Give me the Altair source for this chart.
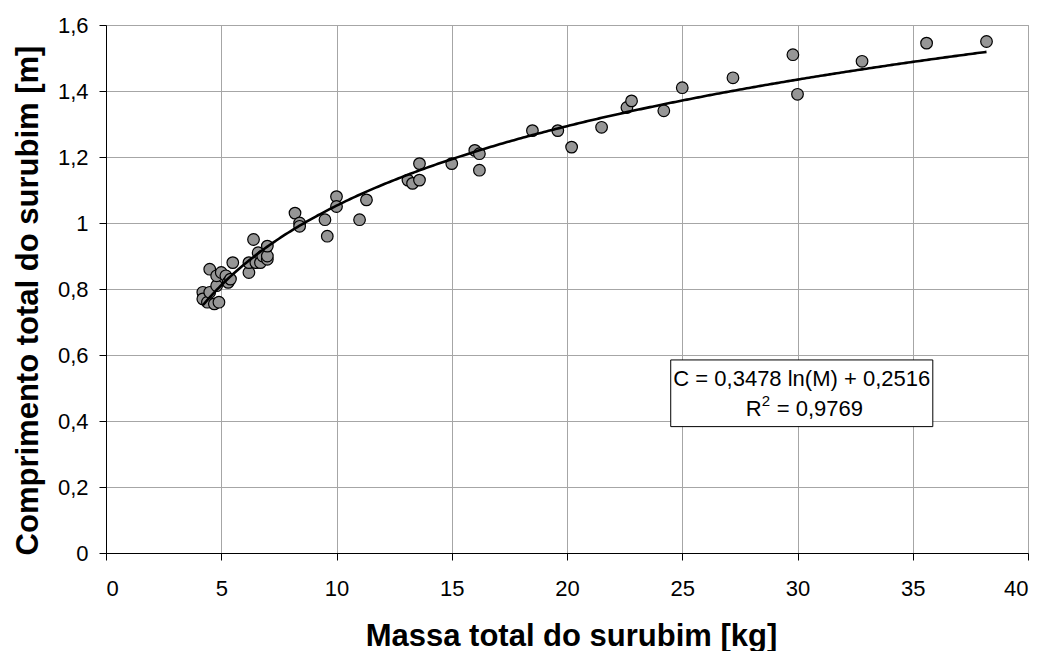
import altair as alt
import pandas as pd

# Surubim measurements: total mass [kg] and total length [m]
massa = [4.2, 4.2, 4.4, 4.5, 4.5, 4.7, 4.8, 4.8, 4.9, 5.0, 5.2, 5.3, 5.4, 5.5,
         6.2, 6.2, 6.4, 6.5, 6.6, 6.7, 6.8, 7.0, 7.0, 7.0,
         8.2, 8.4, 8.4, 9.5, 9.6, 10.0, 10.0, 11.0, 11.3,
         13.1, 13.3, 13.6, 13.6, 15.0, 16.0, 16.2, 16.2,
         18.5, 19.6, 20.2, 21.5, 22.6, 22.8, 24.2, 25.0, 27.2,
         29.8, 30.0, 32.8, 35.6, 38.2]
comprimento = [0.79, 0.77, 0.76, 0.79, 0.86, 0.755, 0.81, 0.84, 0.76, 0.85, 0.84, 0.82, 0.83, 0.88,
               0.85, 0.88, 0.95, 0.88, 0.91, 0.88, 0.90, 0.89, 0.90, 0.93,
               1.03, 1.00, 0.99, 1.01, 0.96, 1.08, 1.05, 1.01, 1.07,
               1.13, 1.12, 1.18, 1.13, 1.18, 1.22, 1.21, 1.16,
               1.28, 1.28, 1.23, 1.29, 1.35, 1.37, 1.34, 1.41, 1.44,
               1.51, 1.39, 1.49, 1.545, 1.55]

# Logarithmic fit C = a ln(M) + b
coef_a = 0.3478
coef_b = 0.2516
m_min, m_max = 4.2, 38.2

eq_line1 = "C = 0,3478 ln(M) + 0,2516"
eq_r = "R"
eq_sup = "2"
eq_rest = "= 0,9769"

# Equation box extent and text baselines (data units)
box_x = [24.5, 35.87]
box_y = [0.383, 0.585]
line_y = [0.506, 0.416]

df = pd.DataFrame({"M": massa, "C": comprimento})

FONT = "Liberation Sans"
GRID = "#a6a6a6"
num_label = "replace(format(datum.value, '~g'), '.', ',')"

x_scale = alt.Scale(domain=[0, 40], nice=False, zero=True)
y_scale = alt.Scale(domain=[0, 1.6], nice=False, zero=True)

x_axis = alt.Axis(values=list(range(0, 41, 5)), labelExpr=num_label,
                  title="Massa total do surubim [kg]", titleFont=FONT, titleFontSize=31,
                  titleFontWeight="bold", titleColor="black",
                  titleX=465, titleY=92, titleAlign="center", titleBaseline="alphabetic",
                  labelFont=FONT, labelFontSize=22, labelColor="black", labelPadding=18,
                  domainColor="black", tickColor="black", tickSize=7,
                  gridColor=GRID, gridWidth=1)
y_axis = alt.Axis(values=[0, 0.2, 0.4, 0.6, 0.8, 1.0, 1.2, 1.4, 1.6], labelExpr=num_label,
                  title="Comprimento total do surubim [m]", titleFont=FONT, titleFontSize=31,
                  titleFontWeight="bold", titleColor="black",
                  titleX=-69, titleY=275, titleAlign="center", titleBaseline="alphabetic",
                  labelFont=FONT, labelFontSize=22, labelColor="black", labelPadding=11,
                  domainColor="black", tickColor="black", tickSize=7,
                  gridColor=GRID, gridWidth=1)

points = alt.Chart(df).mark_point(
    filled=True, fill="#969696", stroke="black", strokeWidth=1.2, size=135, opacity=1
).encode(
    x=alt.X("M:Q", scale=x_scale, axis=x_axis),
    y=alt.Y("C:Q", scale=y_scale, axis=y_axis),
)

trend = alt.Chart(alt.sequence(m_min, m_max + 0.05, 0.1, as_="M")).transform_calculate(
    C=f"{coef_a} * log(datum.M) + {coef_b}"
).mark_line(color="black", strokeWidth=2.6).encode(
    x=alt.X("M:Q", scale=x_scale),
    y=alt.Y("C:Q", scale=y_scale),
)

box_df = pd.DataFrame({"x": [box_x[0]], "x2": [box_x[1]], "y": [box_y[0]], "y2": [box_y[1]]})
box = alt.Chart(box_df).mark_rect(fill="white", stroke="black", strokeWidth=1).encode(
    x=alt.X("x:Q", scale=x_scale), x2="x2:Q",
    y=alt.Y("y:Q", scale=y_scale), y2="y2:Q",
)

cx = (box_x[0] + box_x[1]) / 2


def eq_text(text, y, size=22, align="center", dx=0, dy=0):
    d = pd.DataFrame({"x": [cx], "y": [y], "t": [text]})
    return alt.Chart(d).mark_text(
        font=FONT, fontSize=size, color="black", align=align,
        baseline="alphabetic", dx=dx, dy=dy
    ).encode(x=alt.X("x:Q", scale=x_scale), y=alt.Y("y:Q", scale=y_scale), text="t:N")


texts = [
    eq_text(eq_line1, line_y[0]),
    eq_text(eq_r, line_y[1], align="left", dx=-56),
    eq_text(eq_sup, line_y[1], size=15, align="left", dx=-40, dy=-10),
    eq_text(eq_rest, line_y[1], align="left", dx=-25),
]

chart = alt.layer(points, trend, box, *texts).properties(
    width=922, height=528,
    padding={"left": 106, "top": 25, "right": 16, "bottom": 98},
    autosize=alt.AutoSizeParams(type="none"),
    background="white",
).configure_view(stroke=GRID, strokeWidth=1)

chart.save("out.html", embed_options={"renderer": "svg", "actions": False})
